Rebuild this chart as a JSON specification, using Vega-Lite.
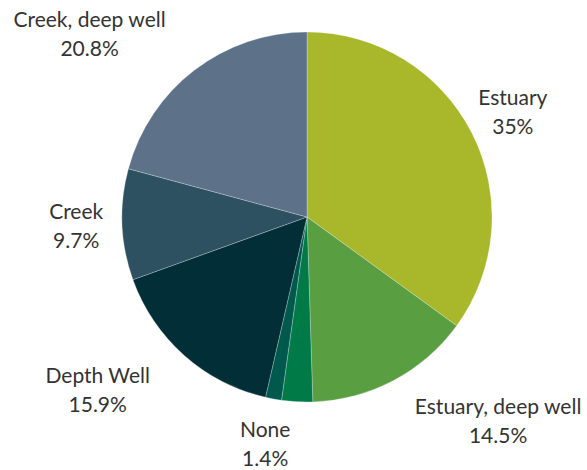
{
  "$schema": "https://vega.github.io/schema/vega-lite/v6.json",
  "autosize": "none",
  "width": 574,
  "height": 434,
  "padding": {"left": 20, "top": 0, "right": 0, "bottom": 36},
  "background": "white",
  "data": {
    "values": [
      {"category": "Estuary", "pct": 35.0, "order": 1, "label": "35%"},
      {"category": "Estuary, deep well", "pct": 14.5, "order": 2, "label": "14.5%"},
      {"category": "Other", "pct": 2.7, "order": 3, "label": "2.7%"},
      {"category": "None", "pct": 1.4, "order": 4, "label": "1.4%"},
      {"category": "Depth Well", "pct": 15.9, "order": 5, "label": "15.9%"},
      {"category": "Creek", "pct": 9.7, "order": 6, "label": "9.7%"},
      {"category": "Creek, deep well", "pct": 20.8, "order": 7, "label": "20.8%"}
    ]
  },
  "transform": [
    {"calculate": "[datum.category, datum.label]", "as": "lines"}
  ],
  "encoding": {
    "theta": {"field": "pct", "type": "quantitative", "stack": true},
    "order": {"field": "order", "type": "quantitative"}
  },
  "layer": [
    {
      "mark": {"type": "arc", "outerRadius": 185, "stroke": "#ffffff", "strokeWidth": 0.5, "strokeOpacity": 0.5},
      "encoding": {
        "color": {
          "field": "category",
          "type": "nominal",
          "legend": null,
          "scale": {
            "domain": ["Estuary", "Estuary, deep well", "Other", "None", "Depth Well", "Creek", "Creek, deep well"],
            "range": ["#a8b82a", "#5a9e42", "#007a47", "#00594d", "#022e38", "#2e5161", "#5d7289"]
          }
        }
      }
    },
    {
      "mark": {"type": "text", "radius": 231, "font": "Lato", "fontSize": 21, "color": "#333333", "lineHeight": 29, "align": "center", "baseline": "middle", "dy": -13},
      "encoding": {
        "text": {
          "condition": {"test": "indexof(['Estuary', 'None', 'Creek'], datum.category) >= 0", "field": "lines"},
          "value": ""
        }
      }
    },
    {
      "mark": {"type": "text", "radius": 231, "font": "Lato", "fontSize": 21, "color": "#333333", "lineHeight": 29, "align": "center", "baseline": "middle", "dy": -13, "dx": 83},
      "encoding": {
        "text": {
          "condition": {"test": "datum.category === 'Estuary, deep well'", "field": "lines"},
          "value": ""
        }
      }
    },
    {
      "mark": {"type": "text", "radius": 231, "font": "Lato", "fontSize": 21, "color": "#333333", "lineHeight": 29, "align": "center", "baseline": "middle", "dy": -13, "dx": -56},
      "encoding": {
        "text": {
          "condition": {"test": "datum.category === 'Depth Well'", "field": "lines"},
          "value": ""
        }
      }
    },
    {
      "mark": {"type": "text", "radius": 231, "font": "Lato", "fontSize": 21, "color": "#333333", "lineHeight": 29, "align": "center", "baseline": "middle", "dy": -13, "dx": -77},
      "encoding": {
        "text": {
          "condition": {"test": "datum.category === 'Creek, deep well'", "field": "lines"},
          "value": ""
        }
      }
    }
  ]
}
